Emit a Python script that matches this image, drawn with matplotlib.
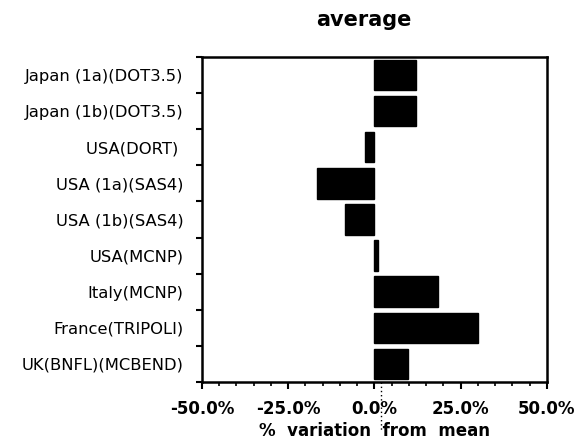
import matplotlib
matplotlib.use("Agg")
import matplotlib.pyplot as plt
from matplotlib.ticker import MultipleLocator, FuncFormatter, FixedLocator
from matplotlib.transforms import blended_transform_factory

categories = ["Japan (1a)(DOT3.5)", "Japan (1b)(DOT3.5)", "USA(DORT) ", "USA (1a)(SAS4)",
              "USA (1b)(SAS4)", "USA(MCNP)", "Italy(MCNP)", "France(TRIPOLI)", "UK(BNFL)(MCBEND)"]
values = [12.0, 12.0, -2.6, -16.5, -8.5, 1.0, 18.5, 30.0, 9.6]
x_ticks = [-50, -25, 0, 25, 50]
title = "average"
xlabel = "%  variation  from  mean"

fig = plt.figure(figsize=(5.8, 4.42), dpi=100)
ax = fig.add_axes([0.348, 0.136, 0.595, 0.735])

n = len(categories)
ypos = list(range(n))
ax.barh(ypos, values, height=0.84, color="black", edgecolor="black")

ax.set_xlim(-50, 50)
ax.set_ylim(n - 0.5, -0.5)
ax.set_xticks(x_ticks)
ax.xaxis.set_major_formatter(FuncFormatter(lambda v, p: f"{v:.1f}%"))
ax.xaxis.set_minor_locator(MultipleLocator(5))

ax.set_yticks(ypos)
ax.set_yticklabels(categories, fontsize=11.8, family="DejaVu Sans")
ax.yaxis.set_minor_locator(FixedLocator([i - 0.5 for i in range(n + 1)]))
ax.tick_params(axis="y", which="major", length=0, pad=13)
ax.tick_params(axis="y", which="minor", length=4, width=1.5, direction="out")
ax.tick_params(axis="x", which="major", length=5, width=1.5, direction="out", pad=8)
ax.tick_params(axis="x", which="minor", length=3, width=1.2, direction="out")
for lab in ax.get_xticklabels():
    lab.set_fontweight("bold")
    lab.set_fontsize(12)
    lab.set_family("DejaVu Sans")

for s in ax.spines.values():
    s.set_linewidth(1.8)

# dotted scan artefact below the axis near zero
trans = blended_transform_factory(ax.transData, ax.transAxes)
ax.plot([2, 2], [0.0, -0.155], transform=trans, color="black", lw=1,
        linestyle=(0, (1, 2)), clip_on=False)

ax.set_title(title, fontsize=15, fontweight="bold", x=0.47, pad=22)
ax.set_xlabel(xlabel, fontsize=12, fontweight="bold", labelpad=3)

fig.savefig("out.png", dpi=100)
